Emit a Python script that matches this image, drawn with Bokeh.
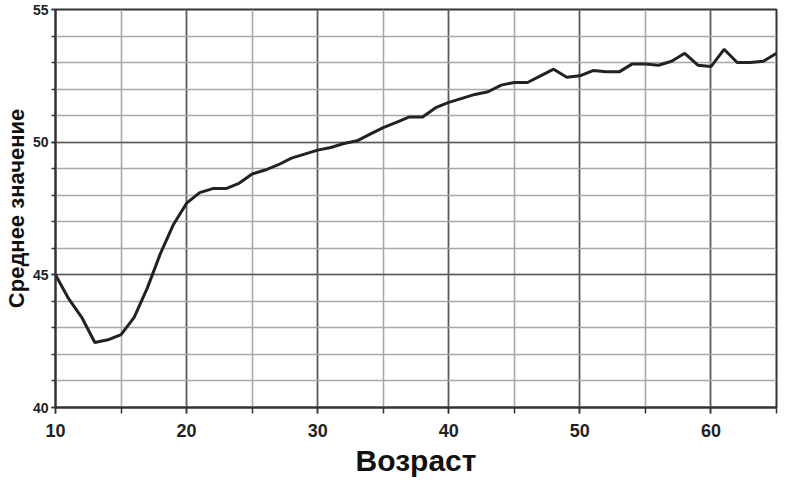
from bokeh.plotting import figure
from bokeh.models import SingleIntervalTicker, Range1d
from bokeh.embed import file_html
from bokeh.resources import INLINE

ages = list(range(10, 66))
means = [45.0, 44.1, 43.4, 42.45, 42.55, 42.75, 43.4, 44.5, 45.8, 46.9,
         47.7, 48.1, 48.25, 48.25, 48.45, 48.8, 48.95, 49.15, 49.4, 49.55,
         49.7, 49.8, 49.95, 50.05, 50.3, 50.55, 50.75, 50.95, 50.95, 51.3,
         51.5, 51.65, 51.8, 51.9, 52.15, 52.25, 52.25, 52.5, 52.75, 52.45,
         52.5, 52.7, 52.65, 52.65, 52.95, 52.95, 52.9, 53.05, 53.35, 52.9,
         52.85, 53.5, 53.0, 53.0, 53.05, 53.35]
x_label = "Возраст"
y_label = "Среднее значение"

FONT = "Liberation Sans"

p = figure(width=781, height=479, output_backend="svg", toolbar_location=None,
           x_range=Range1d(10, 65), y_range=Range1d(40, 55),
           min_border_left=48, min_border_right=5, min_border_top=9,
           min_border_bottom=60)

p.line(ages, means, line_color="#222222", line_width=3)

p.xaxis.ticker = SingleIntervalTicker(interval=10, num_minor_ticks=2)
p.yaxis.ticker = SingleIntervalTicker(interval=5, num_minor_ticks=5)
p.xgrid.ticker = p.xaxis.ticker
p.ygrid.ticker = p.yaxis.ticker

for g in (p.xgrid, p.ygrid):
    g.grid_line_color = "#5a5a5a"
    g.grid_line_width = 1.6
    g.minor_grid_line_color = "#a8a8a8"
    g.minor_grid_line_width = 1.6

p.outline_line_color = "#333333"
p.outline_line_width = 2
p.outline_line_alpha = 1

for ax in (p.xaxis, p.yaxis):
    ax.axis_line_color = "#333333"
    ax.axis_line_width = 2
    ax.major_tick_line_color = "#333333"
    ax.minor_tick_line_color = "#333333"
    ax.major_tick_line_width = 1.5
    ax.minor_tick_line_width = 1.5
    ax.major_tick_in = 0
    ax.minor_tick_in = 0
    ax.major_label_text_font = FONT
    ax.major_label_text_font_style = "bold"
    ax.major_label_text_color = "#222222"
    ax.axis_label_text_font = FONT
    ax.axis_label_text_font_style = "bold"
    ax.axis_label_text_color = "#111111"

p.xaxis.major_tick_out = 6
p.xaxis.minor_tick_out = 6
p.xaxis.major_label_text_font_size = "18px"
p.xaxis.major_label_standoff = 10
p.xaxis.axis_label = x_label
p.xaxis.axis_label_text_font_size = "30px"
p.xaxis.axis_label_standoff = 4

p.yaxis.major_tick_out = 4
p.yaxis.minor_tick_out = 4
p.yaxis.major_label_text_font_size = "14px"
p.yaxis.major_label_standoff = 3
p.yaxis.axis_label = y_label
p.yaxis.axis_label_text_font_size = "22px"
p.yaxis.axis_label_standoff = 1

p.background_fill_color = "white"
p.border_fill_color = "white"

open("out.html", "w").write(file_html(p, INLINE))
